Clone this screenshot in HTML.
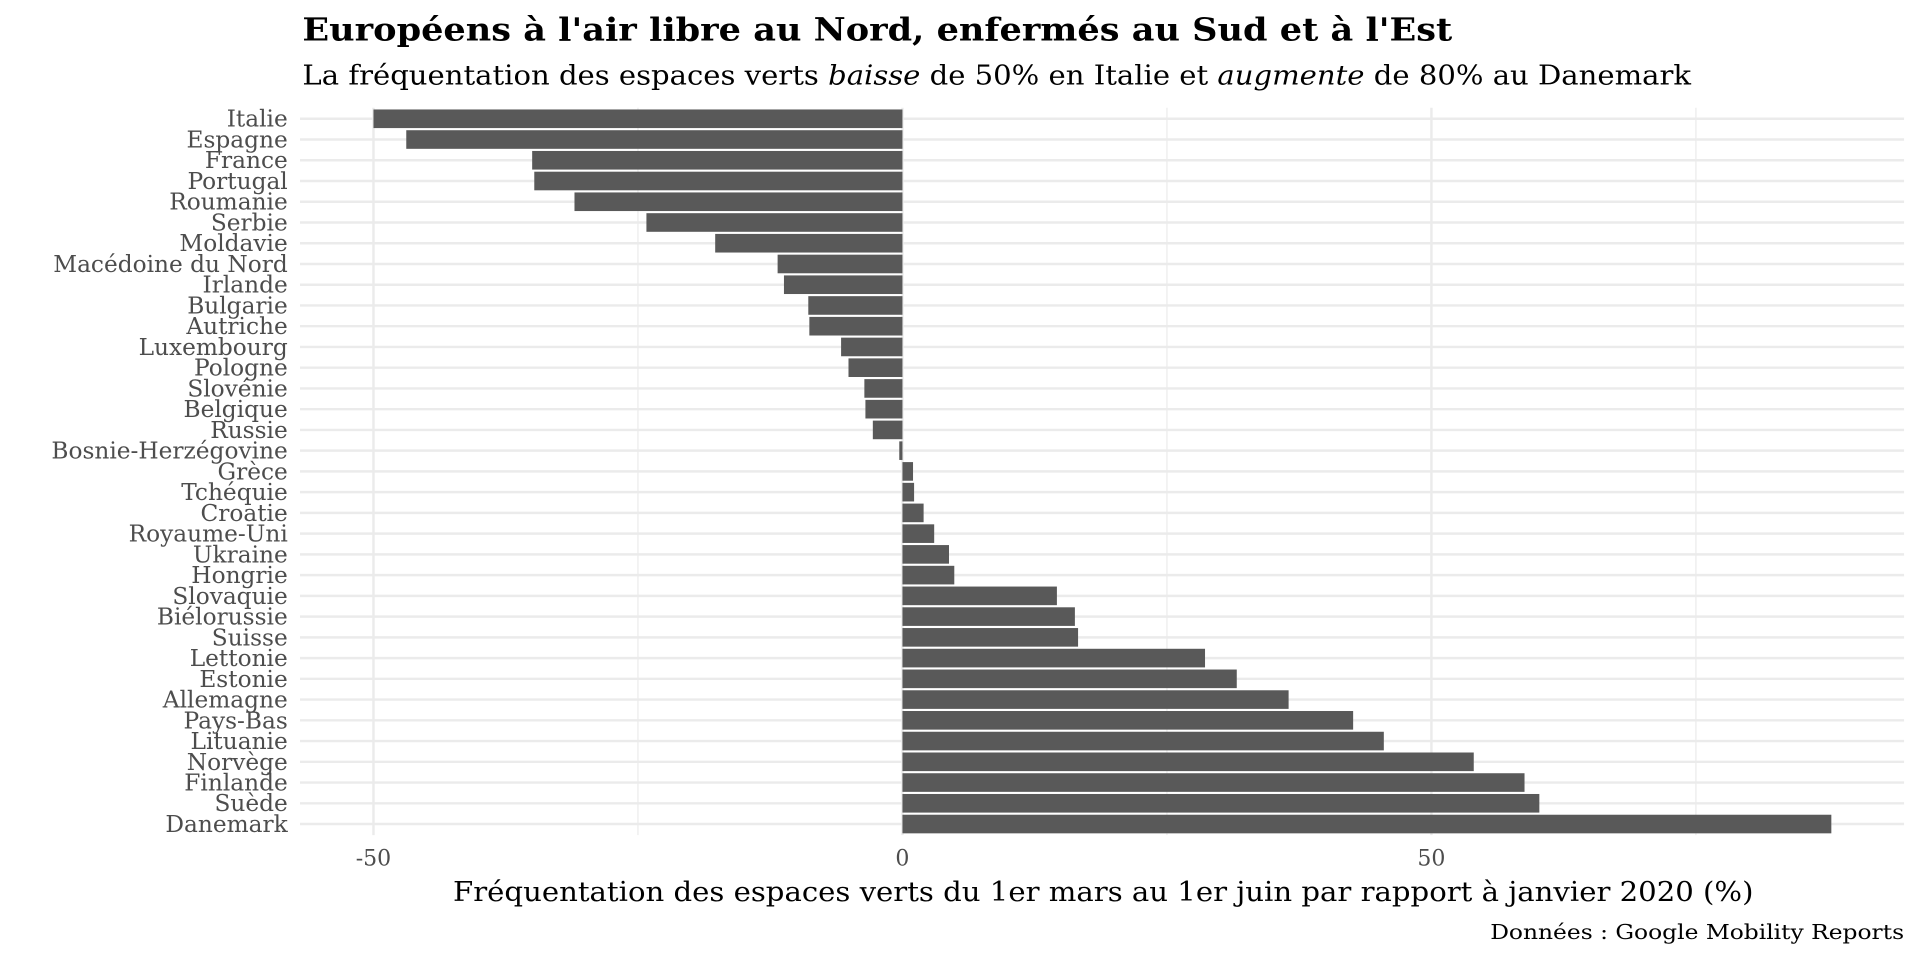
<!DOCTYPE html>
<html><head><meta charset="utf-8"><style>
html,body{margin:0;padding:0;background:#fff;}
svg{display:block;font-family:"DejaVu Serif","Liberation Serif",serif;}
</style></head><body>
<svg id="chart" width="1920" height="960" viewBox="0 0 1568 784" xmlns="http://www.w3.org/2000/svg">
<text x="247" y="33" font-size="26" font-weight="bold" textLength="939" lengthAdjust="spacingAndGlyphs">Européens à l'air libre au Nord, enfermés au Sud et à l'Est</text>
<text x="247" y="69" font-size="22" textLength="1134" lengthAdjust="spacingAndGlyphs">La fréquentation des espaces verts <tspan font-style="italic">baisse</tspan> de 50% en Italie et <tspan font-style="italic">augmente</tspan> de 80% au Danemark</text>
<g id="grid"></g>
<g id="bars"></g>
<g id="ylabels"></g>
<g id="xlabels"></g>
<text x="901" y="736" font-size="22" text-anchor="middle" textLength="1062" lengthAdjust="spacingAndGlyphs">Fréquentation des espaces verts du 1er mars au 1er juin par rapport à janvier 2020 (%)</text>
<text x="1555" y="767" font-size="17" text-anchor="end" textLength="338" lengthAdjust="spacingAndGlyphs">Données : Google Mobility Reports</text>
</svg>
<script>
const categories=["Italie","Espagne","France","Portugal","Roumanie","Serbie","Moldavie","Macédoine du Nord","Irlande","Bulgarie","Autriche","Luxembourg","Pologne","Slovénie","Belgique","Russie","Bosnie-Herzégovine","Grèce","Tchéquie","Croatie","Royaume-Uni","Ukraine","Hongrie","Slovaquie","Biélorussie","Suisse","Lettonie","Estonie","Allemagne","Pays-Bas","Lituanie","Norvège","Finlande","Suède","Danemark"];
const values=[-50,-46.9,-35,-34.8,-31,-24.2,-17.7,-11.8,-11.2,-8.9,-8.8,-5.8,-5.1,-3.6,-3.5,-2.8,-0.3,1.0,1.1,2.0,3.0,4.4,4.9,14.6,16.3,16.6,28.6,31.6,36.5,42.6,45.5,54.0,58.8,60.2,87.8];
const majorTicks=[-50,0,50];
const tickLabels=["-50","0","50"];
const minorTicks=[-25,25,75];
const NS="http://www.w3.org/2000/svg";
const x=v=>737+v*8.64;
const y=i=>97+i*16.94;
const L=245,R=1555,T=88,B=682;
function mk(t,a,p){const e=document.createElementNS(NS,t);for(const k in a)e.setAttribute(k,a[k]);p.appendChild(e);return e;}
const grid=document.getElementById('grid');
minorTicks.forEach(v=>{const l=mk('line',{x1:x(v),x2:x(v),y1:T,y2:B,stroke:'#ebebeb','stroke-width':1},grid);

});
majorTicks.forEach(v=>{const l=mk('line',{x1:x(v),x2:x(v),y1:T,y2:B,stroke:'#ebebeb','stroke-width':2},grid);

});
categories.forEach((c,i)=>{const l=mk('line',{x1:L,x2:R,y1:y(i),y2:y(i),stroke:'#ebebeb','stroke-width':2},grid);

});
const bars=document.getElementById('bars'),yl=document.getElementById('ylabels');
categories.forEach((c,i)=>{const v=values[i];const h=15.2;
const r=mk('rect',{x:Math.min(x(0),x(v)),y:y(i)-h/2,width:Math.abs(x(v)-x(0)),height:h,fill:'#595959'},bars);


const t=mk('text',{x:235,y:y(i)+6.5,'font-size':19,'text-anchor':'end',fill:'#4d4d4d'},yl);t.textContent=c;

});
const xl=document.getElementById('xlabels');
majorTicks.forEach((v,i)=>{const t=mk('text',{x:x(v),y:707,'font-size':18,'text-anchor':'middle',fill:'#4d4d4d'},xl);t.textContent=tickLabels[i];

});
</script>
</body></html>
